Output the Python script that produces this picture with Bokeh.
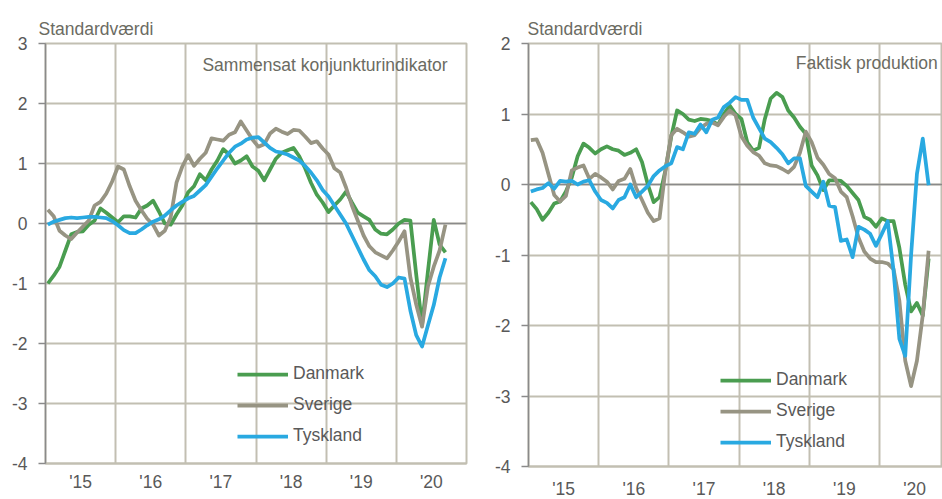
from bokeh.plotting import figure
from bokeh.models import FixedTicker, Range1d, Span, Legend, LegendItem, Label
from bokeh.layouts import row
from bokeh.embed import file_html
from bokeh.resources import INLINE

# ---------------- data (monthly, Jan 2015 .. Sep 2020) ----------------
months = list(range(69))  # month index from Jan 2015

# Sammensat konjunkturindikator
dk_ind = [-1.00, -0.87, -0.72, -0.45, -0.18, -0.14, -0.13, -0.02, 0.05, 0.25, 0.18, 0.10,
          0.02, 0.12, 0.12, 0.10, 0.25, 0.30, 0.38, 0.20, 0.00, -0.02, 0.15, 0.30,
          0.52, 0.62, 0.82, 0.72, 0.90, 1.05, 1.24, 1.15, 1.00, 1.05, 1.12, 0.95,
          0.88, 0.72, 0.90, 1.08, 1.18, 1.22, 1.26, 1.12, 0.92, 0.68, 0.48, 0.35,
          0.19, 0.30, 0.40, 0.53, 0.35, 0.18, 0.12, 0.06, -0.10, -0.17, -0.18, -0.10,
          0.00, 0.06, 0.05, -0.85, -1.69, -0.80, 0.06, -0.35, -0.48]
se_ind = [0.23, 0.12, -0.12, -0.20, -0.26, -0.15, -0.05, 0.05, 0.30, 0.36, 0.50, 0.70,
          0.95, 0.90, 0.62, 0.38, 0.22, 0.08, -0.02, -0.20, -0.12, 0.10, 0.68, 0.95,
          1.14, 0.96, 1.08, 1.18, 1.42, 1.40, 1.38, 1.48, 1.52, 1.70, 1.55, 1.40,
          1.28, 1.32, 1.50, 1.58, 1.53, 1.49, 1.56, 1.55, 1.45, 1.34, 1.37, 1.25,
          1.15, 0.92, 0.85, 0.60, 0.30, 0.05, -0.20, -0.38, -0.48, -0.53, -0.58, -0.45,
          -0.30, -0.13, -0.90, -1.35, -1.72, -1.05, -0.72, -0.45, -0.02]
de_ind = [-0.02, 0.03, 0.06, 0.09, 0.10, 0.09, 0.10, 0.11, 0.11, 0.10, 0.09, 0.04,
          -0.03, -0.11, -0.16, -0.16, -0.10, -0.03, 0.03, 0.07, 0.13, 0.22, 0.30, 0.36,
          0.42, 0.46, 0.55, 0.64, 0.78, 0.92, 1.05, 1.18, 1.28, 1.33, 1.40, 1.43,
          1.44, 1.35, 1.26, 1.20, 1.18, 1.15, 1.10, 1.05, 0.96, 0.85, 0.72, 0.56,
          0.45, 0.30, 0.15, 0.00, -0.20, -0.40, -0.60, -0.78, -0.88, -1.02, -1.06, -1.00,
          -0.90, -0.92, -1.45, -1.86, -2.05, -1.70, -1.36, -0.90, -0.58]

# Faktisk produktion
dk_prod = [-0.25, -0.35, -0.50, -0.40, -0.27, -0.24, -0.10, 0.10, 0.40, 0.58, 0.52, 0.44,
           0.50, 0.54, 0.50, 0.48, 0.42, 0.45, 0.50, 0.32, 0.00, -0.25, -0.18, 0.20,
           0.68, 1.05, 1.00, 0.92, 0.90, 0.93, 0.92, 0.90, 0.85, 1.00, 1.12, 1.00,
           0.93, 0.60, 0.48, 0.52, 0.93, 1.22, 1.30, 1.24, 1.05, 0.95, 0.82, 0.72,
           0.27, 0.13, -0.08, 0.06, 0.06, 0.05, -0.02, -0.12, -0.22, -0.46, -0.50, -0.60,
           -0.48, -0.52, -0.52, -0.90, -1.42, -1.80, -1.68, -1.86, -1.05]
se_prod = [0.63, 0.64, 0.45, 0.15, -0.15, -0.24, -0.16, 0.20, 0.24, 0.27, 0.08, 0.15,
           0.10, 0.04, -0.07, 0.05, 0.08, 0.22, -0.05, -0.22, -0.40, -0.52, -0.48, 0.20,
           0.70, 0.79, 0.74, 0.68, 0.70, 0.80, 0.86, 0.88, 0.84, 0.96, 1.05, 0.98,
           0.68, 0.55, 0.46, 0.41, 0.30, 0.27, 0.26, 0.22, 0.17, 0.25, 0.45, 0.75,
           0.60, 0.38, 0.28, 0.15, 0.09, -0.10, -0.18, -0.45, -0.75, -0.95, -1.05, -1.10,
           -1.10, -1.12, -1.20, -1.65, -2.50, -2.86, -2.50, -1.85, -0.94]
de_prod = [-0.10, -0.07, -0.05, 0.02, -0.06, 0.05, 0.04, 0.05, 0.00, 0.04, 0.06, -0.10,
           -0.22, -0.26, -0.34, -0.22, -0.18, 0.00, -0.18, -0.10, -0.02, 0.12, 0.20, 0.26,
           0.30, 0.53, 0.50, 0.74, 0.72, 0.85, 0.74, 0.92, 0.95, 1.10, 1.16, 1.24,
           1.20, 1.20, 0.95, 0.80, 0.65, 0.60, 0.52, 0.43, 0.30, 0.37, 0.37, -0.02,
           -0.10, -0.18, 0.04, -0.30, -0.32, -0.80, -0.78, -1.03, -0.60, -0.64, -0.70, -0.87,
           -0.70, -0.52, -1.22, -2.19, -2.43, -1.00, 0.15, 0.65, -0.01]

series_names = ["Danmark", "Sverige", "Tyskland"]
year_ticks = [2015, 2016, 2017, 2018, 2019, 2020, 2021]
year_labels = ["'15", "'16", "'17", "'18", "'19", "'20"]
y_label = "Standardværdi"

# ---------------- style ----------------
FONT = "Liberation Sans"
FS = "17.5px"
COLORS = ["#4a9d50", "#979483", "#29a9e1"]
GRID = "#c2bfb2"
AXIS = "#8a8a8a"
TEXT = "#595959"
TITLE_C = "#6b6b62"

xs = [2015 + (m + 0.4) / 12 for m in months]


def panel(fw, fh, x_end, y_lo, y_hi, b_left, b_right, b_top, b_bottom,
          data, inner_title, inner_xy, legend_loc, title_offset, label_standoff):
    p = figure(frame_width=fw, frame_height=fh, output_backend="svg", toolbar_location=None,
               x_range=Range1d(2015, x_end), y_range=Range1d(y_lo, y_hi),
               min_border_left=b_left, min_border_right=b_right,
               min_border_top=b_top, min_border_bottom=b_bottom,
               background_fill_color="white", border_fill_color="white")
    p.outline_line_color = GRID
    p.outline_line_width = 2

    # grids
    p.xgrid.ticker = FixedTicker(ticks=year_ticks)
    p.ygrid.ticker = FixedTicker(ticks=list(range(y_lo, y_hi + 1)))
    for g in (p.xgrid, p.ygrid):
        g.grid_line_color = GRID
        g.grid_line_width = 2

    # x axis: labels centred in each year
    mids = [y + 0.5 for y in year_ticks[:-1]]
    p.xaxis.ticker = FixedTicker(ticks=mids)
    p.xaxis.major_label_overrides = {m: l for m, l in zip(mids, year_labels)}
    p.xaxis.major_tick_line_color = None
    p.xaxis.major_tick_out = 0
    p.xaxis.major_tick_in = 0
    p.xaxis.minor_tick_line_color = None
    p.xaxis.minor_tick_out = 0
    p.xaxis.axis_line_color = GRID
    p.xaxis.axis_line_width = 2
    p.xaxis.major_label_standoff = label_standoff
    p.xaxis.axis_label_standoff = 0

    # y axis
    yt = list(range(y_lo, y_hi + 1))
    p.yaxis.ticker = FixedTicker(ticks=yt)
    p.yaxis.major_label_overrides = {t: str(t) for t in yt}
    p.yaxis.axis_line_color = AXIS
    p.yaxis.axis_line_width = 1.5
    p.yaxis.major_tick_line_color = AXIS
    p.yaxis.major_tick_line_width = 1.5
    p.yaxis.major_tick_out = 7
    p.yaxis.major_tick_in = 0
    p.yaxis.minor_tick_line_color = None
    p.yaxis.minor_tick_out = 0
    p.yaxis.major_label_standoff = 11
    p.yaxis.axis_label_standoff = 0

    for ax in (p.xaxis, p.yaxis):
        ax.major_label_text_font = FONT
        ax.major_label_text_font_size = FS
        ax.major_label_text_color = TEXT

    # zero line
    p.add_layout(Span(location=0, dimension="width", line_color=AXIS, line_width=1.5,
                      level="underlay"))

    # unit title above the plot area
    p.title.text = y_label
    p.title.align = "left"
    p.title.offset = title_offset
    p.title.text_font = FONT
    p.title.text_font_size = FS
    p.title.text_font_style = "normal"
    p.title.text_color = TITLE_C
    p.title.text_line_height = 1.45

    # series
    items = []
    for name, vals, col in zip(series_names, data, COLORS):
        r = p.line(xs, vals, line_color=col, line_width=3.75, line_join="round")
        items.append(LegendItem(label=name, renderers=[r]))

    p.add_layout(Label(x=inner_xy[0], y=inner_xy[1], text=inner_title,
                       text_align="right", text_baseline="middle",
                       text_font=FONT, text_font_size=FS, text_color=TITLE_C))

    leg = Legend(items=items, location=legend_loc, orientation="vertical",
                 glyph_width=51, glyph_height=20, label_height=20, spacing=10,
                 label_standoff=5, padding=0, margin=0,
                 border_line_alpha=0, background_fill_alpha=0,
                 label_text_font=FONT, label_text_font_size=FS, label_text_color=TEXT)
    p.add_layout(leg, "center")
    return p


# left panel: frame x 45..466, y 42..462 ; right panel: frame x 528..942, y 43..466
p1 = panel(421, 420, 2021, -4, 3, 45, 17, 42, 36,
           [dk_ind, se_ind, de_ind], "Sammensat konjunkturindikator", (2020.73, 2.65),
           (192, 17), -7, 8)
p2 = panel(414, 423, 2015 + 414 / 70.2, -4, 2, 45, 0, 43, 32,
           [dk_prod, se_prod, de_prod], "Faktisk produktion", (2020.83, 1.72),
           (192, 14), -1, 12)

layout = row(p1, p2)
open("out.html", "w").write(file_html(layout, INLINE))
